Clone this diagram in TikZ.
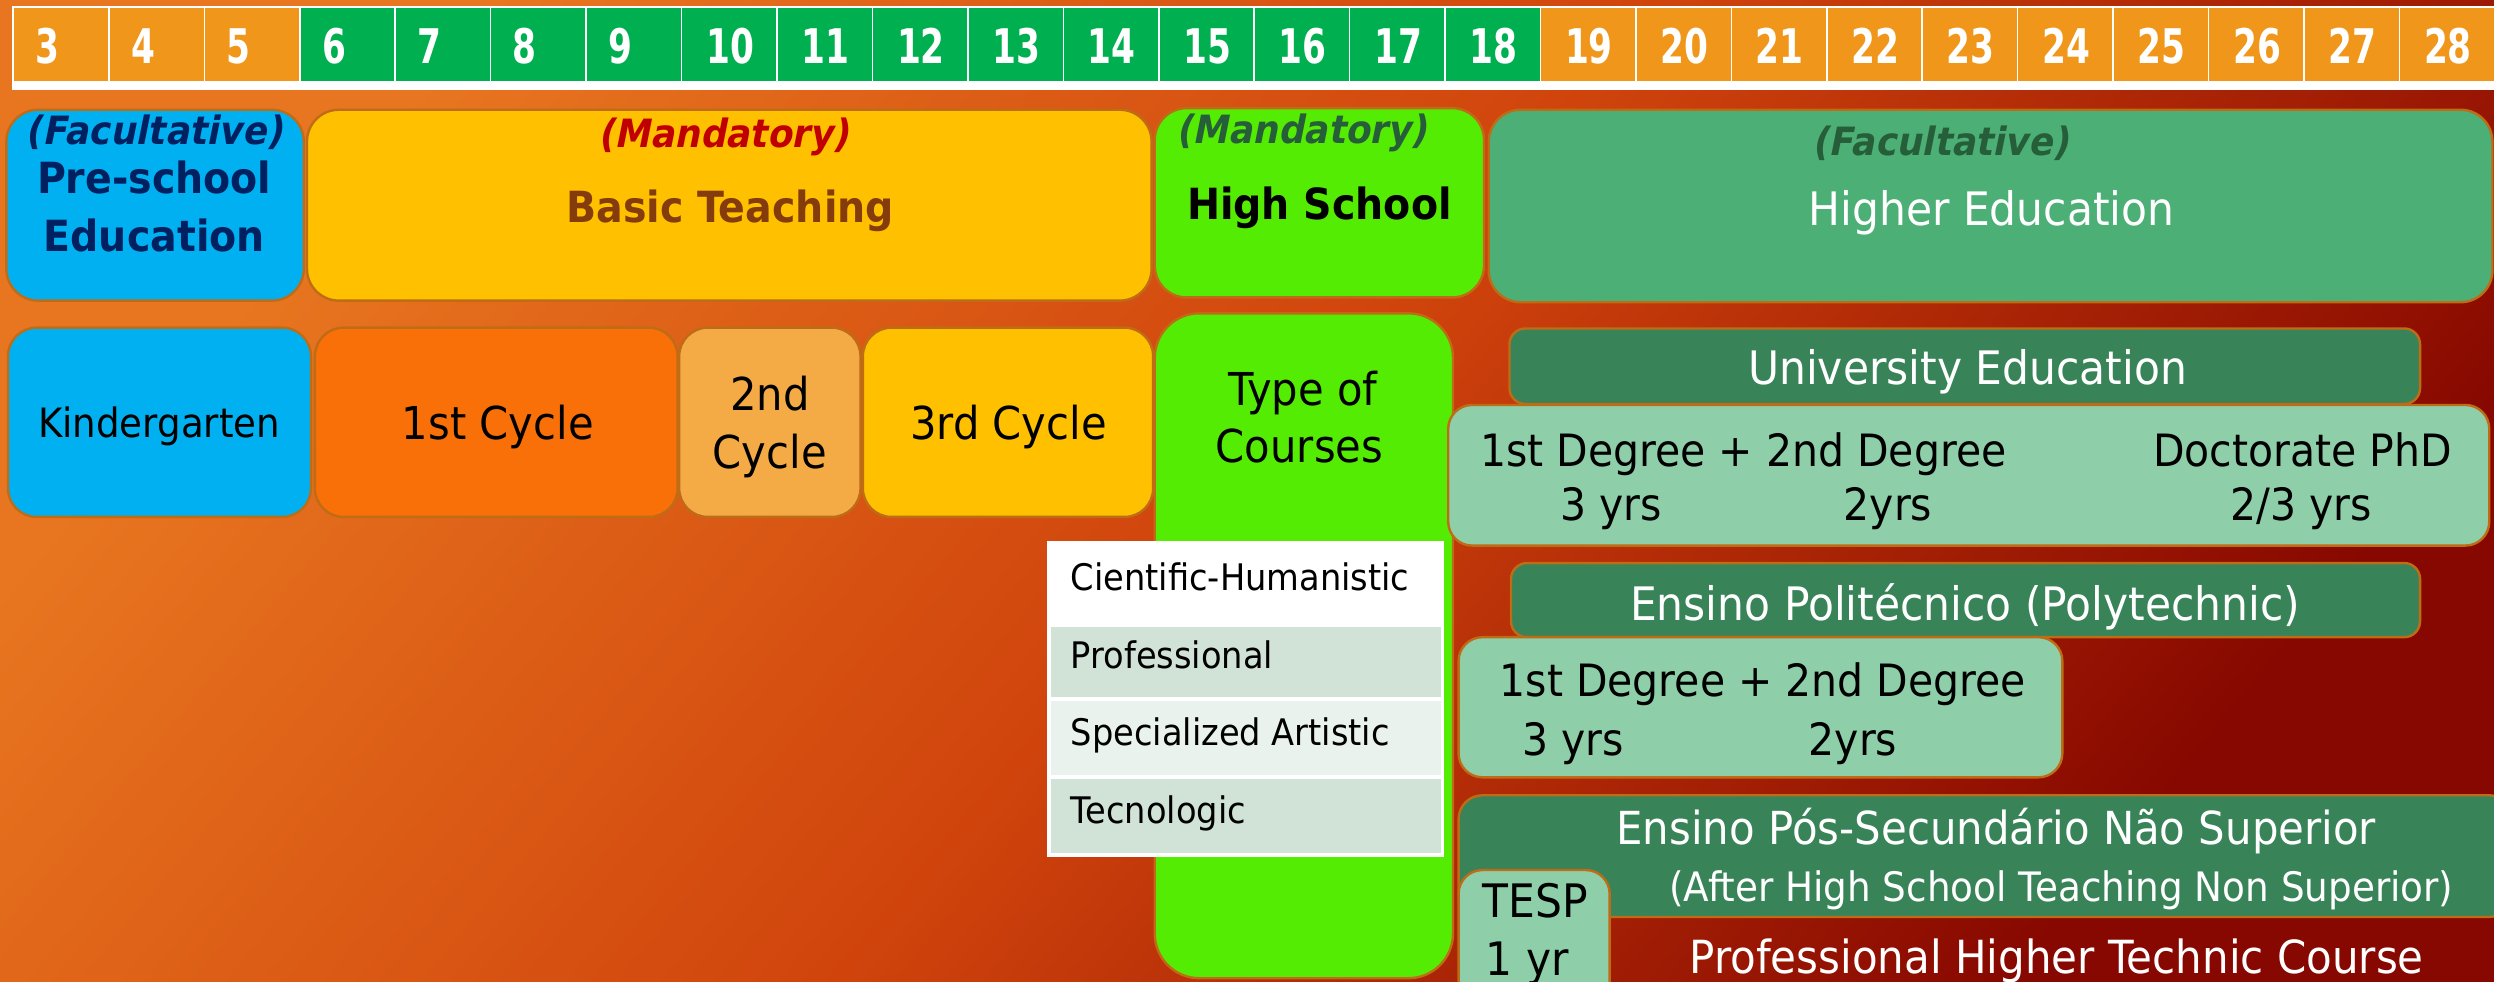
\documentclass[tikz,border=0pt]{standalone}
\usepackage{fontspec}
\setmainfont{DejaVu Sans}[FakeStretch=0.92]
\newfontfamily\numfont{DejaVu Sans Bold}[FakeStretch=0.72]
\newfontfamily\tagfont{DejaVu Sans Bold}[FakeStretch=0.92,FakeSlant=0.2]
\newcommand\sz[1]{\fontsize{#1}{#1}\selectfont}

\definecolor{bgA}{RGB}{232,118,32}
\definecolor{bgB}{RGB}{208,68,12}
\definecolor{bgC}{RGB}{135,8,0}
\definecolor{yo}{RGB}{240,150,26}
\definecolor{yg}{RGB}{0,176,80}
\definecolor{edge}{RGB}{190,108,22}
\definecolor{blu}{RGB}{0,176,240}
\definecolor{yel}{RGB}{255,192,0}
\definecolor{lim}{RGB}{85,236,4}
\definecolor{mgr}{RGB}{76,175,117}
\definecolor{ora}{RGB}{250,112,8}
\definecolor{lor}{RGB}{244,171,70}
\definecolor{dgr}{RGB}{56,132,88}
\definecolor{pgr}{RGB}{142,207,170}
\definecolor{tb1}{RGB}{208,227,214}
\definecolor{tb2}{RGB}{233,242,236}
\definecolor{navy}{RGB}{0,32,96}
\definecolor{redt}{RGB}{192,0,0}
\definecolor{brn}{RGB}{132,60,12}
\definecolor{dgt}{RGB}{38,94,58}

\tikzset{
  box/.style={draw=edge,line width=1.5pt,rounded corners=#1},
  box/.default=20pt,
  lbl/.style={inner sep=0pt,anchor=base},
  lft/.style={inner sep=0pt,anchor=base west},
  yr/.style={inner sep=0pt,anchor=base,text=white,font=\numfont\sz{30}}
}

\begin{document}
\begin{tikzpicture}[x=1pt,y=-1pt]
\useasboundingbox (0,0) rectangle (1568,617);
\clip (0,0) rectangle (1568,617);
\shade[top color=bgA,bottom color=bgC,middle color=bgB,shading angle=50] (0,0) rectangle (1568,617);

\fill[white] (7.5,3.8) rectangle (1568,56.5);
\foreach \n in {3,...,28}{
  \pgfmathtruncatemacro\xl{9+60*(\n-3)}
  \pgfmathsetmacro\off{\n<10 ? 21 : 30}
  \ifnum\n<6 \def\cc{yo}\else\ifnum\n>18 \def\cc{yo}\else\def\cc{yg}\fi\fi
  \fill[\cc] (\xl,5.2) rectangle ++(59,45.8);
  \node[yr] (y\n) at (\xl+\off,40.2) {\n};
}

\draw[box,fill=blu] (4,69) rectangle (191,189);
\draw[box,fill=yel] (193,69) rectangle (724,189);
\draw[box,fill=lim] (726,68) rectangle (933,187);
\draw[box,fill=mgr] (936,69) rectangle (1567,190);

\node[lbl,text=navy,font=\tagfont\sz{24.5}] (pretag) at (97,91) {(Facultative)};
\node[lbl,text=navy,font=\bfseries\sz{27}] (pre) at (97,121.5) {Pre-school};
\node[lbl,text=navy,font=\bfseries\sz{27}] (preedu) at (97,158) {Education};
\node[lbl,text=redt,font=\tagfont\sz{24.5}] (basictag) at (455,93) {(Mandatory)};
\node[lbl,text=brn,font=\bfseries\sz{27}] (basic) at (459,140) {Basic Teaching};
\node[lbl,text=dgt,font=\tagfont\sz{24.5}] (hstag) at (818.5,90) {(Mandatory)};
\node[lbl,font=\bfseries\sz{27}] (hs) at (829.5,138) {High School};
\node[lbl,text=dgt,font=\tagfont\sz{24.5}] (hetag) at (1220,97.6) {(Facultative)};
\node[lbl,text=white,font=\sz{29}] (he) at (1252,141.5) {Higher Education};

\draw[box=18pt,fill=blu] (5,206) rectangle (195.5,325);
\draw[box=18pt,fill=ora] (198,206) rectangle (426,325);
\draw[box=18pt,fill=lor] (427,206) rectangle (541,325);
\draw[box=18pt,fill=yel] (542.5,206) rectangle (725,325);
\draw[box=28pt,fill=lim] (726,197) rectangle (913.5,615);

\node[lbl,font=\sz{25.4}] (kg) at (100,275) {Kindergarten};
\node[lbl,font=\sz{28.5}] (c1) at (313,276.6) {1st Cycle};
\node[lbl,font=\sz{28.5}] (c2a) at (484,258) {2nd};
\node[lbl,font=\sz{28.5}] (c2b) at (484,294.5) {Cycle};
\node[lbl,font=\sz{28.5}] (c3) at (634,276.6) {3rd Cycle};
\node[lbl,font=\sz{28.5}] (types) at (819,255) {Type of};
\node[lbl,font=\sz{28.5}] (courses) at (817,291) {Courses};

\fill[white] (658.5,340) rectangle (908,538.5);
\fill[tb1] (660.5,394.5) rectangle (906,438.5);
\fill[tb2] (660.5,440.5) rectangle (906,487.5);
\fill[tb1] (660.5,489.5) rectangle (906,536.5);
\node[lft,font=\sz{23}] (t1) at (673,371.5) {Cientific-Humanistic};
\node[lft,font=\sz{23}] (t2) at (673,420) {Professional};
\node[lft,font=\sz{23}] (t3) at (673,469) {Specialized Artistic};
\node[lft,font=\sz{23}] (t4) at (673,517.5) {Tecnologic};

\draw[box=10pt,fill=dgr] (949,206.5) rectangle (1521.5,254);
\draw[box=15pt,fill=pgr] (910.5,254.6) rectangle (1565,343);
\draw[box=10pt,fill=dgr] (950,354) rectangle (1521.5,400.6);
\draw[box=15pt,fill=pgr] (917,400.6) rectangle (1296.6,488.7);
\draw[box=15pt,fill=dgr] (917,500) rectangle (1580,576.5);
\draw[box=15pt,fill=pgr] (917,547) rectangle (1012,645);

\node[lbl,text=white,font=\sz{29}] (uni) at (1237,242) {University Education};
\node[lft,font=\sz{28}] (udeg) at (930.5,293.6) {1st Degree + 2nd Degree};
\node[lft,font=\sz{28}] (phd) at (1353.6,293.6) {Doctorate PhD};
\node[lft,font=\sz{28}] (u3) at (981,327) {3 yrs};
\node[lft,font=\sz{28}] (u2) at (1159,327) {2yrs};
\node[lft,font=\sz{28}] (uphd) at (1402,327) {2/3 yrs};

\node[lbl,text=white,font=\sz{29}] (poly) at (1235.5,390) {Ensino Politécnico (Polytechnic)};
\node[lft,font=\sz{28}] (pdeg) at (942.6,438) {1st Degree + 2nd Degree};
\node[lft,font=\sz{28}] (p3) at (957,475) {3 yrs};
\node[lft,font=\sz{28}] (p2) at (1137,475) {2yrs};

\node[lbl,text=white,font=\sz{28.6}] (post) at (1255,531) {Ensino Pós-Secundário Não Superior};
\node[lbl,text=white,font=\sz{25.5}] (after) at (1296,567) {(After High School Teaching Non Superior)};
\node[lft,font=\sz{29}] (tesp) at (932,577) {TESP};
\node[lft,font=\sz{29}] (tesp1) at (934,613) {1 yr};
\node[lbl,text=white,font=\sz{28.7}] (phtc) at (1293,612) {Professional Higher Technic Course};
\end{tikzpicture}
\end{document}
